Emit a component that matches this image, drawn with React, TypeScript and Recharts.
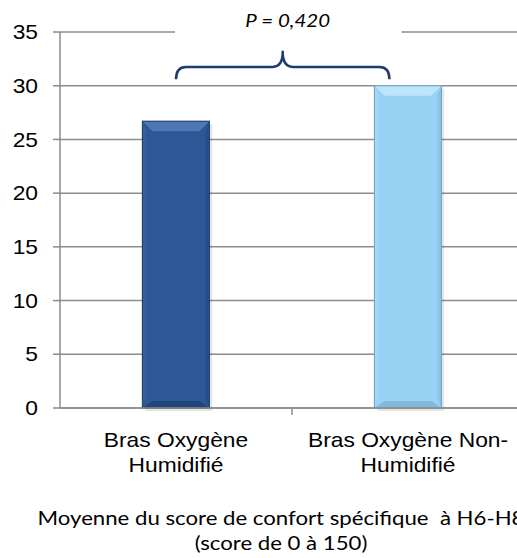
import { BarChart, Bar, XAxis, YAxis, CartesianGrid, ReferenceArea } from 'recharts';

// bar categories and values (mean specific comfort score, H6-H8)
const CATEGORIES = ['Bras Oxygène Humidifié', 'Bras Oxygène Non-Humidifié'];
const CATEGORY_LINES = [
  ['Bras Oxygène', 'Humidifié'],
  ['Bras Oxygène Non-', 'Humidifié'],
];
const SCORES = [26.7, 30.0];
const Y_TICKS = [0, 5, 10, 15, 20, 25, 30, 35];
const P_LABEL = 'P = 0,420';
const FOOTNOTE = ['Moyenne du score de confort spécifique  à H6-H8', '(score de 0 à 150)'];

const data = CATEGORIES.map((name, i) => ({ name, score: SCORES[i] }));

const GRID = '#8c8c8c';
const STRETCH = 1.14;

// bevel colours per bar: base, top, left, right, bottom, outline
const BAR_STYLES = [
  { base: '#2c5898', top: '#4f77b5', left: '#305e9f', right: '#264f8a', bottom: '#224577', edge: '#1d3a66' },
  { base: '#98d3f5', top: '#bce5fb', left: '#a2d8f6', right: '#8ac4e6', bottom: '#82b9da', edge: '#6f9fbf' },
];

function BevelBar(props: any) {
  const { x, y, width: w, height: h, index } = props;
  const s = BAR_STYLES[index % BAR_STYLES.length];
  const b = 10;
  const sb = 4;
  return (
    <g>
      <rect x={x + 3} y={y + 3} width={w} height={h} fill="#000" opacity={0.1} />
      <rect x={x} y={y} width={w} height={h} fill={s.base} />
      <polygon points={`${x},${y} ${x + sb},${y + b} ${x + sb},${y + h - b} ${x},${y + h}`} fill={s.left} />
      <polygon points={`${x + w},${y} ${x + w - sb},${y + b} ${x + w - sb},${y + h - b} ${x + w},${y + h}`} fill={s.right} />
      <polygon points={`${x},${y} ${x + w},${y} ${x + w - b},${y + b} ${x + b},${y + b}`} fill={s.top} />
      <polygon points={`${x},${y + h} ${x + w},${y + h} ${x + w - b},${y + h - b * 0.7} ${x + b},${y + h - b * 0.7}`} fill={s.bottom} />
      <rect x={x} y={y} width={w} height={h} fill="none" stroke={s.edge} strokeWidth={1} />
    </g>
  );
}

function YTick(props: any) {
  const { x, y, payload } = props;
  return (
    <text
      transform={`translate(${x} ${y}) scale(${STRETCH} 1)`}
      textAnchor="end"
      dy="0.36em"
      fontFamily="'Liberation Sans', Arial, sans-serif"
      fontSize={20}
      fill="#000"
    >
      {payload.value}
    </text>
  );
}

function CategoryTick(props: any) {
  const { x, y, payload, index, width, visibleTicksCount } = props;
  const half = payload?.offset || width / visibleTicksCount / 2;
  const lines = CATEGORY_LINES[index] || [payload.value];
  return (
    <g>
      {index === 0 && <line x1={x + half} x2={x + half} y1={y} y2={y + 7} stroke={GRID} strokeWidth={1.5} />}
      {lines.map((line: string, i: number) => (
        <text
          key={i}
          transform={`translate(${x} ${y + 39 + i * 25}) scale(${STRETCH} 1)`}
          textAnchor="middle"
          fontFamily="'Liberation Sans', Arial, sans-serif"
          fontSize={20}
          fill="#000"
        >
          {line}
        </text>
      ))}
    </g>
  );
}

function Brace(props: any) {
  const { x, y, width, height } = props;
  const xL = x + width * 0.25;
  const xR = x + width * 0.71;
  const xc = (xL + xR) / 2;
  const yT = y;
  const yB = y + height;
  const yM = yT + height * 0.55;
  const r = 10;
  const d =
    `M ${xL} ${yB} Q ${xL} ${yM} ${xL + r} ${yM} L ${xc - r} ${yM} Q ${xc} ${yM} ${xc} ${yT}` +
    ` Q ${xc} ${yM} ${xc + r} ${yM} L ${xR - r} ${yM} Q ${xR} ${yM} ${xR} ${yB}`;
  return (
    <g>
      <rect x={xL - 1} y={yT - 24} width={xR - xL + 13} height={8} fill="#fff" />
      <path d={d} fill="none" stroke="#1f3a70" strokeWidth={2.5} strokeLinejoin="round" />
      <text
        transform={`translate(${xc + 5} ${yT - 25}) scale(${STRETCH} 1)`}
        textAnchor="middle"
        fontFamily="Lato, 'Open Sans', sans-serif"
        fontStyle="italic"
        fontSize={18}
        fill="#000"
      >
        {P_LABEL}
      </text>
    </g>
  );
}

export default function App() {
  return (
    <div style={{ position: 'absolute', left: 0, top: 0, width: 517, height: 558, overflow: 'hidden', background: '#fff' }}>
      <BarChart width={530} height={558} data={data} margin={{ top: 32, right: 6, bottom: 0, left: 0 }} barCategoryGap="35.5%">
        <CartesianGrid vertical={false} stroke={GRID} strokeWidth={1.5} />
        <XAxis
          dataKey="name"
          height={150}
          axisLine={{ stroke: GRID, strokeWidth: 1.5 }}
          tickLine={false}
          tickSize={0}
          tickMargin={0}
          tick={<CategoryTick />}
          interval={0}
        />
        <YAxis
          width={60}
          domain={[0, 35]}
          ticks={Y_TICKS}
          interval={0}
          axisLine={{ stroke: GRID, strokeWidth: 1.5 }}
          tickLine={{ stroke: GRID, strokeWidth: 1.5 }}
          tickSize={7}
          tickMargin={15}
          tick={<YTick />}
        />
        <Bar dataKey="score" isAnimationActive={false} shape={<BevelBar />} />
        <ReferenceArea
          x1={CATEGORIES[0]}
          x2={CATEGORIES[1]}
          y1={30.6}
          y2={33.15}
          ifOverflow="visible"
          shape={<Brace />}
        />
      </BarChart>
      <svg width={517} height={558} style={{ position: 'absolute', left: 0, top: 0, pointerEvents: 'none' }}>
        {FOOTNOTE.map((line, i) => (
          <text
            key={i}
            transform={`translate(281 ${525 + i * 25}) scale(1.11 1)`}
            textAnchor="middle"
            fontFamily="Lato, 'Open Sans', sans-serif"
            fontSize={20}
            fill="#000"
            style={{ whiteSpace: 'pre' }}
          >
            {line}
          </text>
        ))}
      </svg>
    </div>
  );
}
